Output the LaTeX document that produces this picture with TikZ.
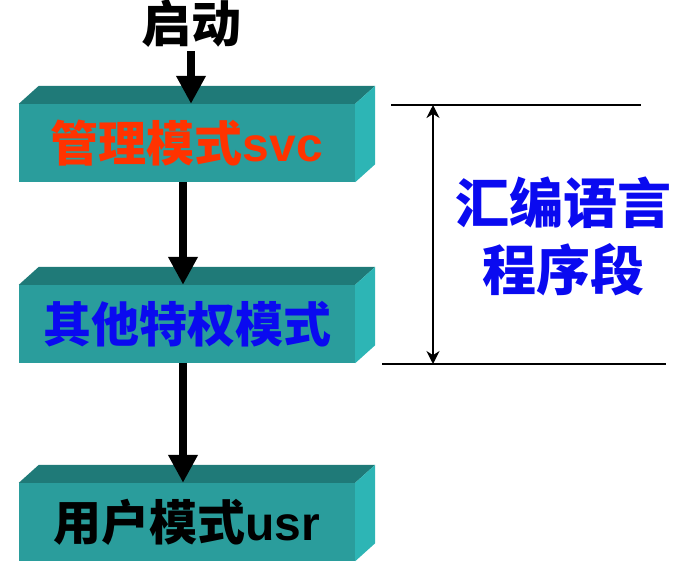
\documentclass[tikz,border=0pt]{standalone}
\usepackage{fontspec}
\setmainfont{Liberation Sans}
\newfontfamily\cjk{Noto Sans CJK SC}
\usetikzlibrary{arrows.meta,positioning,calc}
\definecolor{tealfront}{RGB}{42,157,156}
\definecolor{tealtop}{RGB}{31,122,120}
\definecolor{tealside}{RGB}{45,181,181}
\definecolor{modered}{RGB}{255,51,0}
\definecolor{modeblue}{RGB}{10,10,240}

\begin{document}
\begin{tikzpicture}[
      x=1pt, y=-1pt,
      modus/.style={fill=tealfront, minimum width=336pt, minimum height=78pt,
                    inner sep=0pt, font=\fontsize{48}{48}\selectfont\bfseries},
      flow/.style={line width=8pt, -{Triangle[width=28pt,length=28pt]}},
      spanarrow/.style={line width=2pt, {Stealth[length=13pt,width=13pt]}-{Stealth[length=13pt,width=13pt]}},
      bound/.style={line width=2.5pt},
      asm/.style={align=center, modeblue, font=\fontsize{54}{67}\selectfont\bfseries\cjk}
  ]
      \useasboundingbox (0,0) rectangle (685,576);

      % Modi als Quader
      \node[modus, text=modered] (svc)  at (187,143) {{\cjk 管理模式}svc};
      \node[modus, text=modeblue] (priv) at (187,324) {\cjk 其他特权模式};
      \node[modus, text=black]    (usr)  at (187,522) {{\cjk 用户模式}usr};

      \foreach \m in {svc,priv,usr}{
        \fill[tealtop] (\m.north west) -- ++(20,-18) -- ($(\m.north east)+(20,-18)$) -- (\m.north east) -- cycle;
        \fill[tealside] (\m.north east) -- ++(20,-18) -- ($(\m.south east)+(20,-18)$) -- (\m.south east) -- cycle;
      }

      % Start und Pfeile
      \node[font=\fontsize{50}{50}\selectfont\bfseries\cjk] (start) at (191,24) {启动};
      \draw[flow] (start.south) -- (start.south |- svc.north);
      \draw[flow] ([xshift=-4pt]svc.south) -- ([xshift=-4pt]priv.north);
      \draw[flow] ([xshift=-4pt]priv.south) -- ([xshift=-4pt]usr.north);

      % Bereich Assembler
      \coordinate (topa) at (391,105);
      \coordinate (topb) at (641,105);
      \coordinate (bota) at (382,364);
      \coordinate (botb) at (666,364);
      \coordinate (spana) at (433,105);
      \coordinate (spanb) at (433,364);
      \draw[bound] (topa) -- (topb);
      \draw[bound] (bota) -- (botb);
      \draw[spanarrow] (spana) -- (spanb);
      \node[asm] (code) at (563,236) {汇编语言\\程序段};
  \end{tikzpicture}
\end{document}
